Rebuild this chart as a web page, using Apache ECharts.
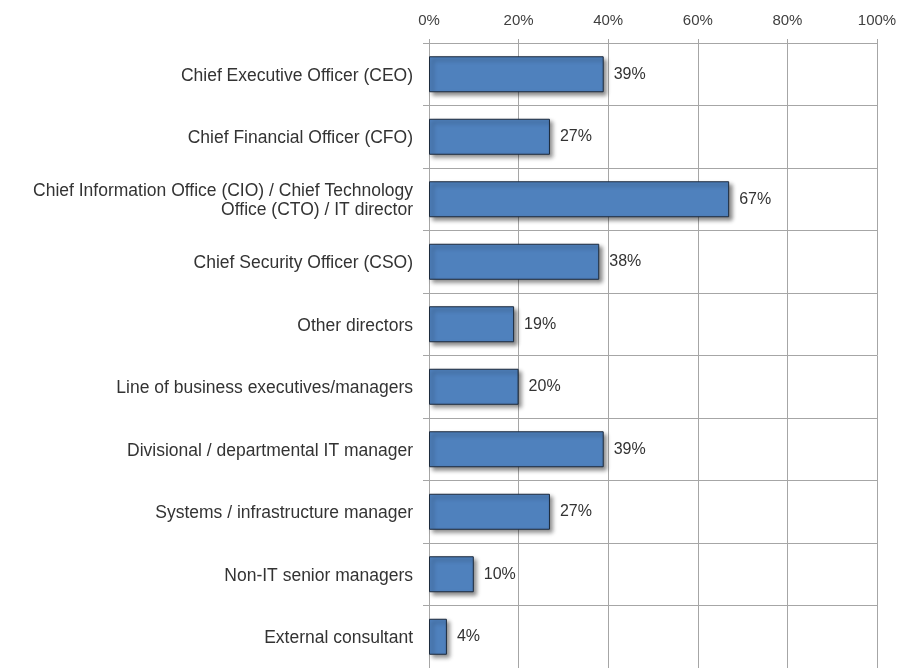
<!DOCTYPE html>
<html>
<head>
<meta charset="utf-8">
<script src="https://cdn.jsdelivr.net/npm/echarts@6/dist/echarts.min.js"></script>
<style>
  html, body { margin: 0; padding: 0; background: #fff; }
  #main { width: 900px; height: 668px; }
</style>
</head>
<body>
<div id="main"></div>
<script>
var categories = [
    'Chief Executive Officer (CEO)',
    'Chief Financial Officer (CFO)',
    'Chief Information Office (CIO) / Chief Technology\nOffice (CTO) / IT director',
    'Chief Security Officer (CSO)',
    'Other directors',
    'Line of business executives/managers',
    'Divisional / departmental IT manager',
    'Systems / infrastructure manager',
    'Non-IT senior managers',
    'External consultant'
];
var values = [39, 27, 67, 38, 19, 20, 39, 27, 10, 4];
var tickMax = 100;
var tickStep = 20;

var myChart = echarts.init(document.getElementById('main'));
var gridColor = '#a6a6a6';
var option = {
    backgroundColor: '#fff',
    animation: false,
    textStyle: { fontFamily: 'Liberation Sans, Arial, sans-serif' },
    grid: { left: 429, right: 23, top: 43, bottom: -4, containLabel: false },
    xAxis: {
        type: 'value',
        position: 'top',
        min: 0,
        max: tickMax,
        interval: tickStep,
        axisLine: { show: true, lineStyle: { color: gridColor } },
        axisTick: { show: true, length: 4, lineStyle: { color: gridColor } },
        axisLabel: { formatter: '{value}%', color: '#404040', fontSize: 15, margin: 15 },
        splitLine: { show: true, lineStyle: { color: gridColor } }
    },
    yAxis: {
        type: 'category',
        inverse: true,
        data: categories,
        axisLine: { show: false },
        axisTick: { show: true, length: 6, interval: 0, lineStyle: { color: gridColor } },
        axisLabel: {
            margin: 16,
            align: 'right',
            formatter: function (v) {
                return v.split('\n').map(function (s) { return '{t|' + s + '}'; }).join('\n');
            },
            rich: {
                t: { color: '#333', fontSize: 17.5, lineHeight: 19, padding: [3, 0, 0, 0] }
            }
        },
        splitLine: { show: true, interval: 0, lineStyle: { color: gridColor } }
    },
    series: [
        {
            type: 'bar',
            data: values,
            barWidth: 36,
            itemStyle: {
                color: '#4f81bd',
                borderColor: '#1c2a3c',
                borderWidth: 1,
                shadowColor: 'rgba(0, 0, 0, 0.45)',
                shadowBlur: 4,
                shadowOffsetX: 3,
                shadowOffsetY: 3
            },
            label: {
                show: true,
                position: 'right',
                distance: 10,
                formatter: '{c}%',
                color: '#333',
                fontSize: 16
            }
        }
    ]
};
myChart.setOption(option);
</script>
</body>
</html>
